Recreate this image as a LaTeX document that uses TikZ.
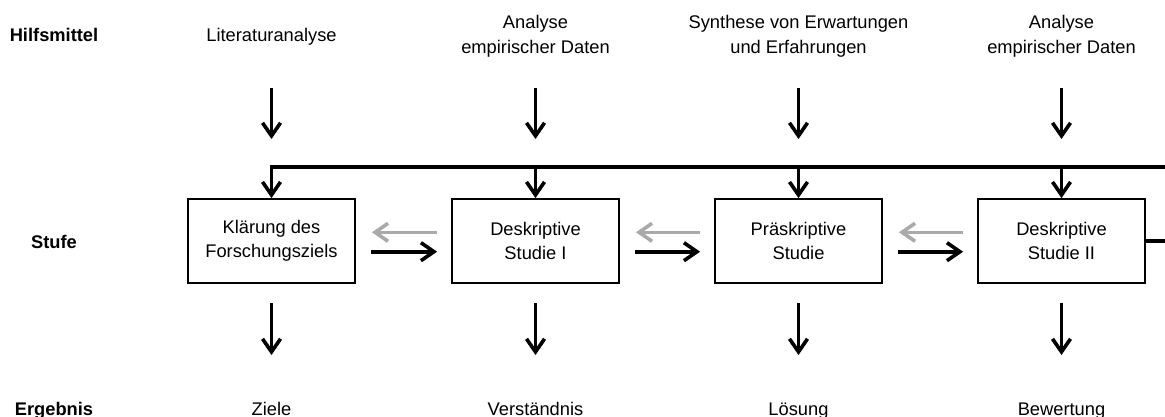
\documentclass[tikz,border=0pt]{standalone}
\usepackage{fontspec}
\setmainfont{Liberation Sans}
\usetikzlibrary{arrows.meta,calc}
\definecolor{backgray}{RGB}{170,170,170}
\tikzset{
  lbl/.style={font=\fontsize{18.3}{25.5}\selectfont, align=center, inner sep=0pt},
  head/.style={font=\bfseries\fontsize{18.3}{25.5}\selectfont, inner sep=0pt},
  stufebox/.style={draw, line width=1.8pt, minimum width=167pt, minimum height=84pt, inner sep=0pt,
     font=\fontsize{18.3}{23.5}\selectfont, align=center},
  arr/.style={line width=3.6pt, -{Straight Barb[length=13pt,width=18pt,line width=3.6pt]}, line join=round},
  backarr/.style={arr, draw=backgray},
  bus/.style={line width=3.8pt}
}
\begin{document}
\begin{tikzpicture}[x=1pt,y=-1pt]
\useasboundingbox (0,0) rectangle (1165,417);
% row headings
\node[head, anchor=base] (hH) at (54,41.7) {Hilfsmittel};
\node[head, anchor=base] (hS) at (54,248) {Stufe};
\node[head, anchor=base] (hE) at (54,415) {Ergebnis};
% boxes
\node[stufebox] (b1) at (271.5,241) {Klärung des\\Forschungsziels};
\node[stufebox] (b2) at (535.5,241) {Deskriptive\\Studie I};
\node[stufebox] (b3) at (798.5,241) {Präskriptive\\Studie};
\node[stufebox] (b4) at (1061.5,241) {Deskriptive\\Studie II};
% top texts
\node[lbl, anchor=base] (t1) at (271.5,41.7) {Literaturanalyse};
\node[lbl] (t2) at (535.5,36.5) {Analyse\\empirischer Daten};
\node[lbl] (t3) at (798.5,36.5) {Synthese von Erwartungen\\und Erfahrungen};
\node[lbl] (t4) at (1061.5,36.5) {Analyse\\empirischer Daten};
% bottom texts
\node[lbl, anchor=base] (e1) at (271.5,415) {Ziele};
\node[lbl, anchor=base] (e2) at (535.5,415) {Verständnis};
\node[lbl, anchor=base] (e3) at (798.5,415) {Lösung};
\node[lbl, anchor=base] (e4) at (1061.5,415) {Bewertung};
% helper coordinates
\coordinate (ta) at (0,88);
\coordinate (tb) at (0,139);
\coordinate (ba) at (0,303);
\coordinate (bb) at (0,355);
\coordinate (busy) at (0,167);
\coordinate (R) at (1165,0);
% top and bottom arrows
\foreach \b in {b1,b2,b3,b4}{
  \draw[arr] (\b.north |- ta) -- (\b.north |- tb);
  \draw[arr] (\b.south |- ba) -- (\b.south |- bb);
}
% bus
\draw[bus] (b1.north |- busy) -- (R |- busy);
\draw[arr] ($(b1.north |- busy)+(0,-1.9)$) -- (b1.north);
\foreach \b in {b2,b3,b4}{
  \draw[arr] (\b.north |- busy) -- (\b.north);
}
\draw[bus] (b4.east) -- (b4.east -| R);
% horizontal arrows
\foreach \a/\c in {b1/b2,b2/b3,b3/b4}{
  \draw[arr] ($(\a.east)+(15,10.7)$) -- ($(\c.west)+(-14,10.7)$);
  \draw[backarr] ($(\c.west)+(-14,-8.7)$) -- ($(\a.east)+(16,-8.7)$);
}
\end{tikzpicture}
\end{document}
